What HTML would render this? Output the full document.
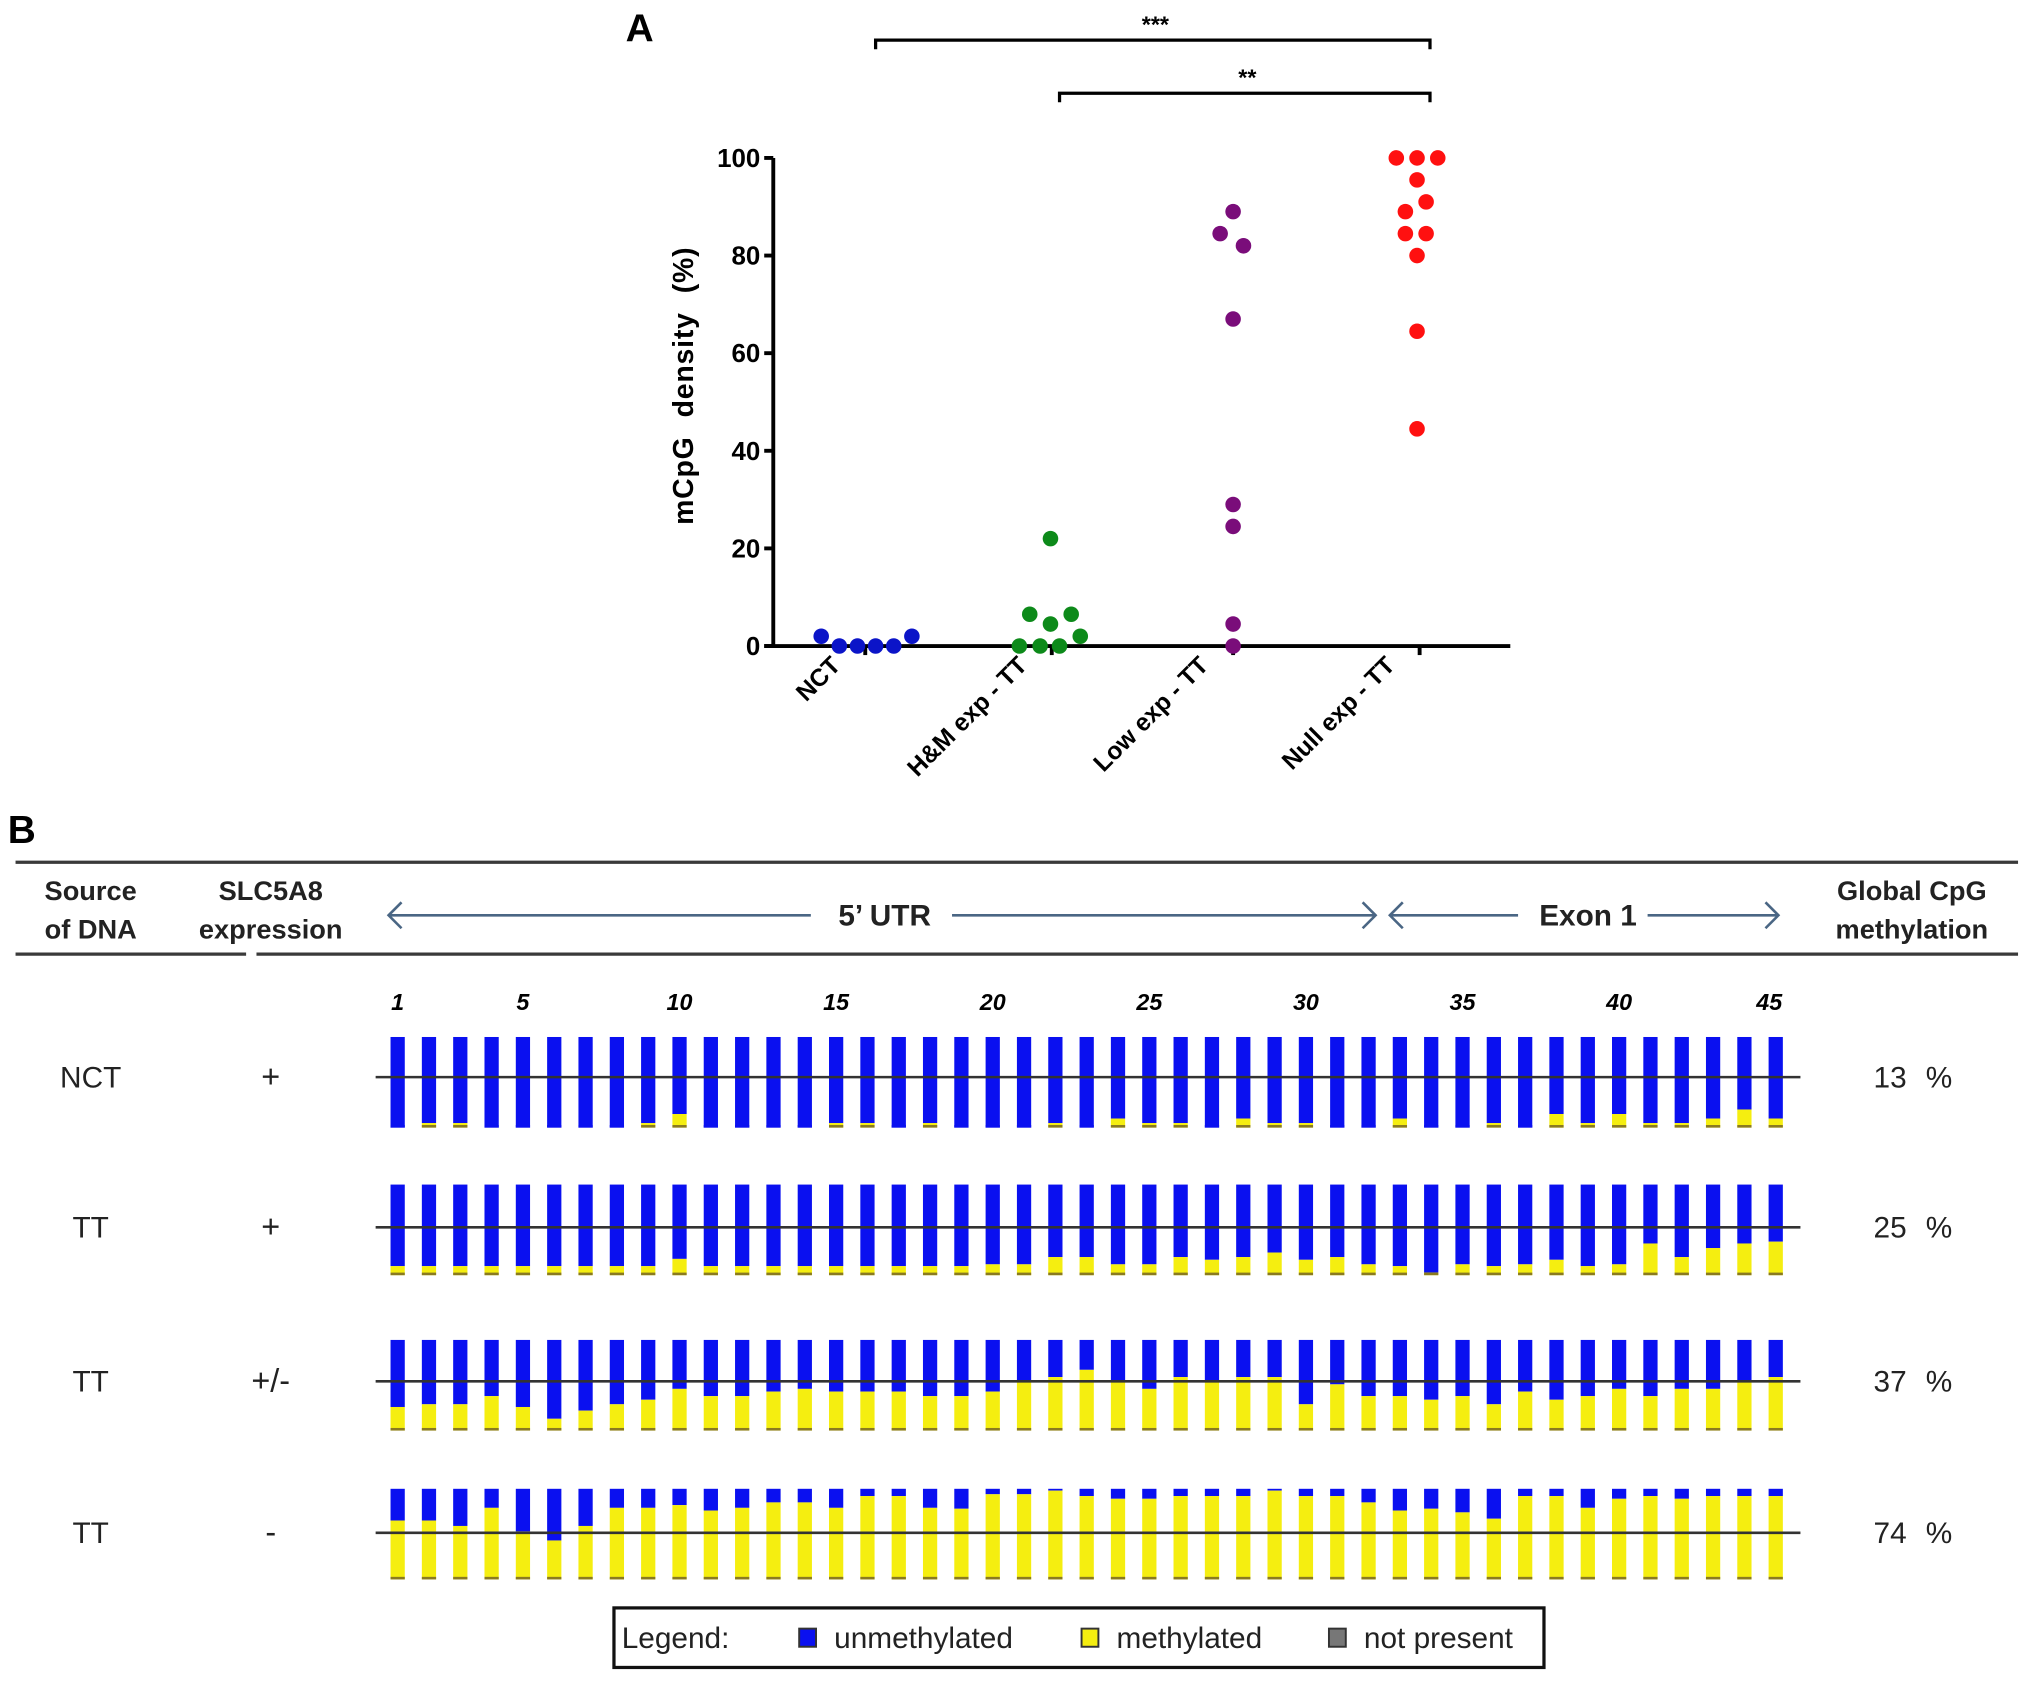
<!DOCTYPE html>
<html><head><meta charset="utf-8">
<style>
html,body{margin:0;padding:0;background:#fff;}
svg{display:block;font-family:"Liberation Sans",Arial,sans-serif;}
</style></head>
<body>
<svg id="fig" width="2031" height="1683" viewBox="0 0 1568 1300" preserveAspectRatio="none" xmlns="http://www.w3.org/2000/svg">
  <text x="483" y="32" font-size="30" font-weight="bold">A</text>
  <g id="chartA"></g>
  <text x="6" y="651" font-size="30" font-weight="bold">B</text>
  <g id="chartB"></g>
</svg>
<script>
// ---------- Panel A data ----------
const groups = ["NCT", "H&M exp - TT", "Low exp - TT", "Null exp - TT"];
const groupColors = ["#0b14c8", "#0d8a1a", "#7a0d7a", "#ff1010"];
const valsNCT = [2, 0, 0, 0, 0, 2];
const valsHM = [6.5, 6.5, 4.5, 2, 0, 0, 0, 22];
const valsLow = [89, 84.5, 82, 67, 29, 24.5, 4.5, 0];
const valsNull = [100, 100, 100, 95.5, 91, 89, 84.5, 84.5, 80, 64.5, 44.5];
const yTicks = [0, 20, 40, 60, 80, 100];
// horizontal jitter layout (pixels, not data)
const jitNCT = [-34, -20, -6, 8, 22, 36];
const jitHM = [-17, 15, -1, 22, -25, -9, 6, -1];
const jitLow = [0, -10, 8, 0, 0, 0, 0, 0];
const jitNull = [-18, -2, 14, -2, 5, -11, -11, 5, -2, -2, -2];

const NS = "http://www.w3.org/2000/svg";
function mk(tag, attrs, parent, txt) {
  const e = document.createElementNS(NS, tag);
  for (const k in attrs) e.setAttribute(k, attrs[k]);
  if (txt !== undefined) e.textContent = txt;
  parent.appendChild(e);
  return e;
}
const A = document.getElementById("chartA");
const yA = v => 499 - v * 3.77;
const xA = i => [668, 812, 952, 1096][i];

let e = mk("line", {x1: 597, y1: yA(100), x2: 597, y2: yA(0) + 1, stroke: "#000", "stroke-width": 3}, A);


e = mk("line", {x1: 590, y1: yA(0), x2: 1166, y2: yA(0), stroke: "#000", "stroke-width": 3}, A);


yTicks.forEach(t => {
  let l = mk("line", {x1: 590, y1: yA(t), x2: 597, y2: yA(t), stroke: "#000", "stroke-width": 3}, A);
  
  
  let tx = mk("text", {x: 587, y: yA(t) + 7, "font-size": 20, "font-weight": "bold", "text-anchor": "end"}, A, String(t));
  
  
});
e = mk("text", {x: 0, y: 0, "font-size": 22, "font-weight": "bold", "text-anchor": "middle", "word-spacing": "8", "letter-spacing": "0.6", transform: "translate(535,298) rotate(-90)"}, A, "mCpG density (%)");



groups.forEach((g, i) => {
  let l = mk("line", {x1: xA(i), y1: yA(0), x2: xA(i), y2: yA(0) + 7, stroke: "#000", "stroke-width": 3}, A);
  
  
  let tx = mk("text", {x: 0, y: 0, "font-size": 19, "font-weight": "bold", "text-anchor": "end", transform: `translate(${xA(i) - 18},${yA(0) + 16}) rotate(-45)`}, A, g);
  
  
});

const allVals = [valsNCT, valsHM, valsLow, valsNull];
const allJit = [jitNCT, jitHM, jitLow, jitNull];
allVals.forEach((arr, gi) => {
  arr.forEach((v, k) => {
    let c = mk("circle", {cx: xA(gi) + (allJit[gi][k] || 0), cy: yA(v), r: 6, fill: groupColors[gi]}, A);
    
    
  });
});

function bracket(x1, x2, y, label, name) {
  let p = mk("path", {d: `M${x1},${y + 7} L${x1},${y} L${x2},${y} L${x2},${y + 7}`, fill: "none", stroke: "#000", "stroke-width": 2.5}, A);
  
  
  let t = mk("text", {x: (x1 + x2) / 2 + 2, y: y - 6, "font-size": 18, "font-weight": "bold", "text-anchor": "middle"}, A, label);
  
  
}
bracket(676, 1104, 31, "***", "significance-bracket-nct");
bracket(818, 1104, 72, "**", "significance-bracket-hm");

// ---------- Panel B data ----------
const rowSources = ["NCT", "TT", "TT", "TT"];
const rowExpr = ["+", "+", "+/-", "-"];
const rowGlobal = ["13", "25", "37", "74"];
const cpgLabels = [1, 5, 10, 15, 20, 25, 30, 35, 40, 45];
const meth1 = [0,5,5,0,0,0,0,0,5,15,0,0,0,0,5,5,0,5,0,0,0,5,0,10,5,5,0,10,5,5,0,0,10,0,0,5,0,15,5,15,5,5,10,20,10];
const meth2 = [10,10,10,10,10,10,10,10,10,18,10,10,10,10,10,10,10,10,10,12,12,20,20,12,12,20,17,20,25,17,20,12,10,3,12,10,12,17,10,12,35,20,30,35,37];
const meth3 = [26,29,29,38,26,13,22,29,34,46,38,38,43,46,43,43,43,38,38,43,54,59,67,54,46,59,54,59,59,29,51,38,38,34,38,29,43,34,38,46,38,46,46,54,59];
const meth4 = [65,65,59,79,53,43,59,79,79,82,76,79,85,85,79,92,92,79,78,94,94,98,92,89,89,92,92,92,98,92,92,85,76,78,74,67,92,92,79,89,92,89,92,92,92];
const rowsMeth = [meth1, meth2, meth3, meth4];

const B = document.getElementById("chartB");
const xB = i => 307 + (i - 1) * 24.18;
const rowTop = [801, 915, 1035, 1150];
const rowMid = [832, 948, 1067, 1184];
const barH = 70, barW = 11;

[[12, 666, 1558, 666], [12, 737, 190, 737], [198, 737, 1558, 737]].forEach(r => {
  let l = mk("line", {x1: r[0], y1: r[1], x2: r[2], y2: r[3], stroke: "#3a3a3a", "stroke-width": 2.5}, B);
  
  
});
function htxt(x, y, s, name, size, weight) {
  let t = mk("text", {x: x, y: y, "font-size": size || 21, "font-weight": weight || "bold", "text-anchor": "middle", fill: "#222"}, B, s);
  
  
  return t;
}
htxt(70, 695, "Source", "header-source");
htxt(70, 725, "of DNA", "header-source");
htxt(209, 695, "SLC5A8", "header-expression");
htxt(209, 725, "expression", "header-expression");
htxt(1476, 695, "Global CpG", "header-global");
htxt(1476, 725, "methylation", "header-global");
function arrow(x1, x2, y, gap1, gap2, name) {
  let g = mk("g", {stroke: "#4a6684", "stroke-width": 2, fill: "none"}, B);
  
  
  mk("line", {x1: x1, y1: y, x2: gap1, y2: y}, g);
  mk("line", {x1: gap2, y1: y, x2: x2, y2: y}, g);
  mk("path", {d: `M${x1 + 10},${y - 10} L${x1},${y} L${x1 + 10},${y + 10}`}, g);
  mk("path", {d: `M${x2 - 10},${y - 10} L${x2},${y} L${x2 - 10},${y + 10}`}, g);
}
arrow(300, 1062, 707, 626, 735, "utr-arrow");
htxt(683, 715, "5’ UTR", "utr-label", 23);
arrow(1073, 1373, 707, 1172, 1272, "exon-arrow");
htxt(1226, 715, "Exon 1", "exon-label", 23);

cpgLabels.forEach(n => {
  let t = mk("text", {x: xB(n) + (n === 45 ? -5 : 0), y: 780, "font-size": 18, "font-weight": "bold", "font-style": "italic", "text-anchor": "middle"}, B, String(n));
  
  
});

rowsMeth.forEach((arr, r) => {
  htxt(70, rowMid[r] + 8, rowSources[r], "row-source-label", 23, "normal");
  htxt(209, rowMid[r] + 8, rowExpr[r], "row-expression-label", 25, "normal");
  let g = mk("text", {x: 1472, y: rowMid[r] + 8, "font-size": 23, "text-anchor": "end", fill: "#222"}, B, rowGlobal[r]);
  
  
  let p = mk("text", {x: 1497, y: rowMid[r] + 8, "font-size": 23, "text-anchor": "middle", fill: "#222"}, B, "%");
  
  
  arr.forEach((m, i) => {
    const x0 = xB(i + 1) - barW / 2;
    const yh = barH * m / 100;
    let u = mk("rect", {x: x0, y: rowTop[r], width: barW, height: barH - yh, fill: "#0a10f0"}, B);
    
    
    if (yh > 0) {
      let y = mk("rect", {x: x0, y: rowTop[r] + barH - yh, width: barW, height: yh, fill: "#f5ee10"}, B);
      
      
    }
    let b = mk("rect", {x: x0, y: rowTop[r] + barH - 2, width: barW, height: 2, fill: m > 0 ? "#8a7a20" : "#0a10f0"}, B);
    
    
  });
  let l = mk("line", {x1: 290, y1: rowMid[r], x2: 1390, y2: rowMid[r], stroke: "#333", "stroke-width": 2}, B);
  
  
});

let lg = mk("g", {}, B);


mk("rect", {x: 474, y: 1242, width: 718, height: 46, fill: "#fff", stroke: "#111", "stroke-width": 2.5}, lg);
function ltxt(x, s, name) {
  let t = mk("text", {x: x, y: 1273, "font-size": 23, fill: "#222"}, lg, s);
  
  
}
ltxt(480, "Legend:", "legend-title");
[[617, "#0a10f0", 644, "unmethylated"], [835, "#f5ee10", 862, "methylated"], [1026, "#777", 1053, "not present"]].forEach(it => {
  let s = mk("rect", {x: it[0], y: 1258, width: 13, height: 14, fill: it[1], stroke: "#333", "stroke-width": 1.5}, lg);
  
  
  ltxt(it[2], it[3], 'legend-entry');
});
</script>
</body></html>
